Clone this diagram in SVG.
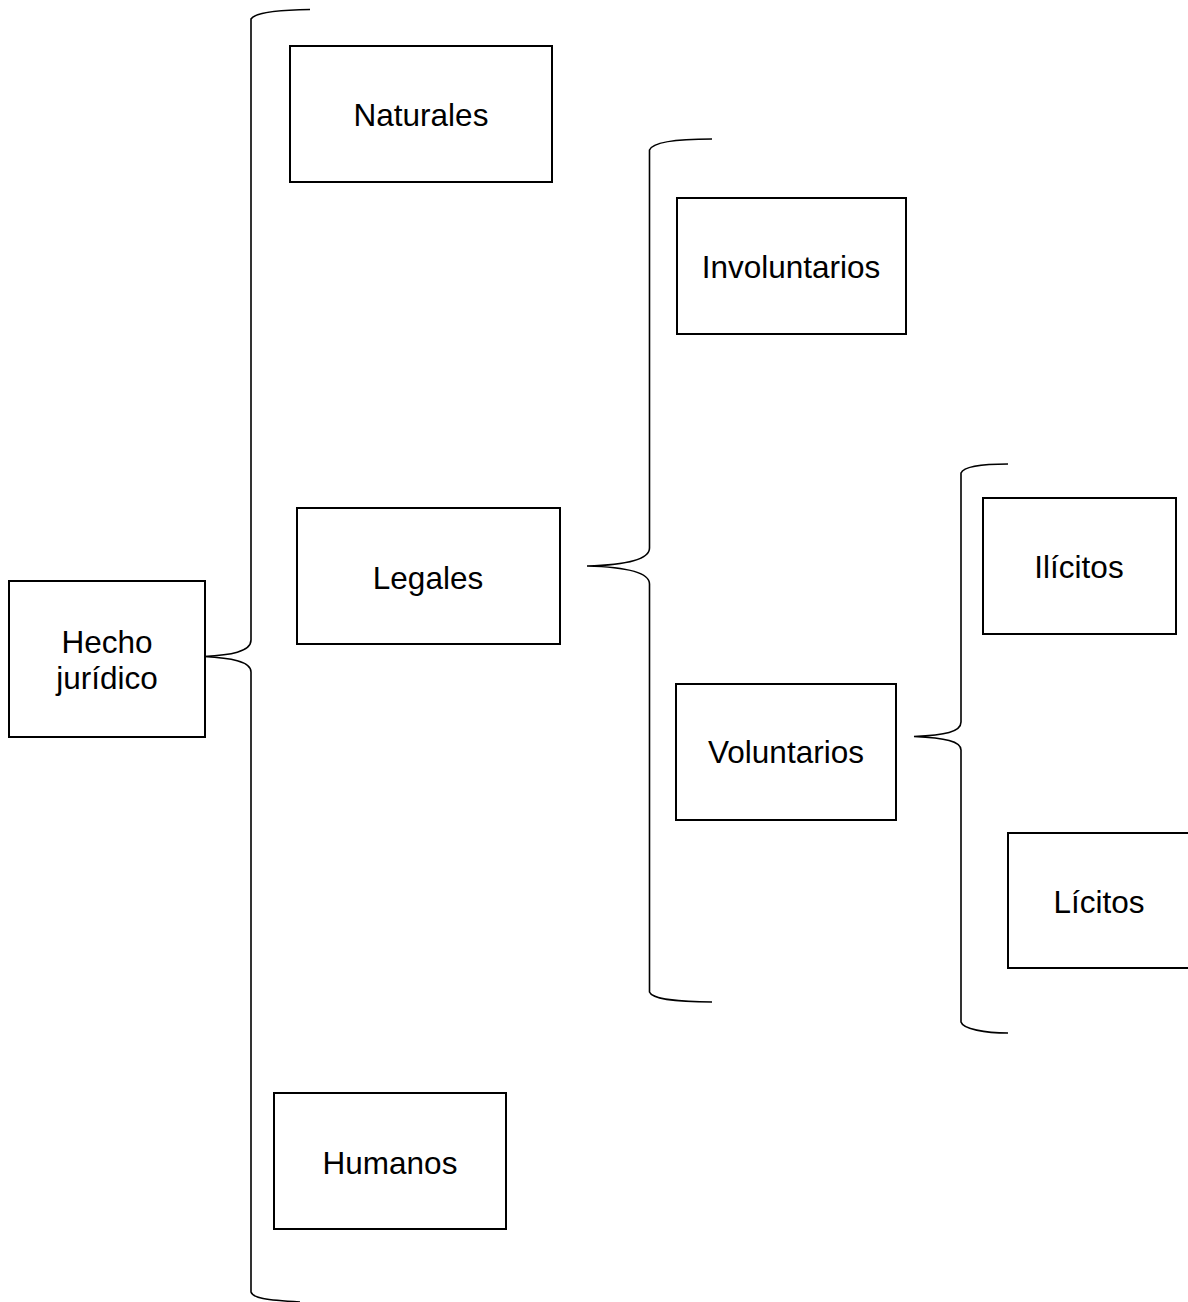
<svg xmlns="http://www.w3.org/2000/svg" width="1188" height="1302" viewBox="0 0 1188 1302">
<style>
.box{fill:#fff;stroke:#000;stroke-width:2}
.t{font-family:"Liberation Sans",Arial,sans-serif;font-size:31.5px;fill:#000;text-anchor:middle}
.br{fill:none;stroke:#000;stroke-width:1.6}
</style>
<rect width="1188" height="1302" fill="#fff"/>
<g id="connectors">
<path class="br" d="M310,9.5 C280,10 255,12 251,19 L251,640 C251,652 230,655 204,656.5 C230,658 251,661 251,672 L251,1292 C253,1298 265,1300 300,1302"/>
<path class="br" d="M712,139 C680,139 653,141 649.5,150 L649.5,548 C649.5,560 625,565 587,566 C625,567 649.5,572 649.5,584 L649.5,992 C652,999 680,1002 712,1002"/>
<path class="br" d="M1008,464 C985,464 964,466 961,473 L961,722 C961,732 945,735 914,736.5 C945,738 961,741 961,750 L961,1022 C963,1029 985,1033 1008,1033"/>
</g>
<g id="hecho"><rect class="box" x="9" y="581" width="196" height="156"/><text class="t" x="107" y="653">Hecho</text><text class="t" x="107" y="689">jurídico</text></g>
<g id="naturales"><rect class="box" x="290" y="46" width="262" height="136"/><text class="t" x="421" y="126">Naturales</text></g>
<g id="legales"><rect class="box" x="297" y="508" width="263" height="136"/><text class="t" x="428" y="589">Legales</text></g>
<g id="humanos"><rect class="box" x="274" y="1093" width="232" height="136"/><text class="t" x="390" y="1174">Humanos</text></g>
<g id="involuntarios"><rect class="box" x="677" y="198" width="229" height="136"/><text class="t" x="791" y="278">Involuntarios</text></g>
<g id="voluntarios"><rect class="box" x="676" y="684" width="220" height="136"/><text class="t" x="786" y="763">Voluntarios</text></g>
<g id="ilicitos"><rect class="box" x="983" y="498" width="193" height="136"/><text class="t" x="1079" y="578">Ilícitos</text></g>
<g id="licitos"><rect class="box" x="1008" y="833" width="190" height="135"/><text class="t" x="1099" y="913">Lícitos</text></g>
</svg>
